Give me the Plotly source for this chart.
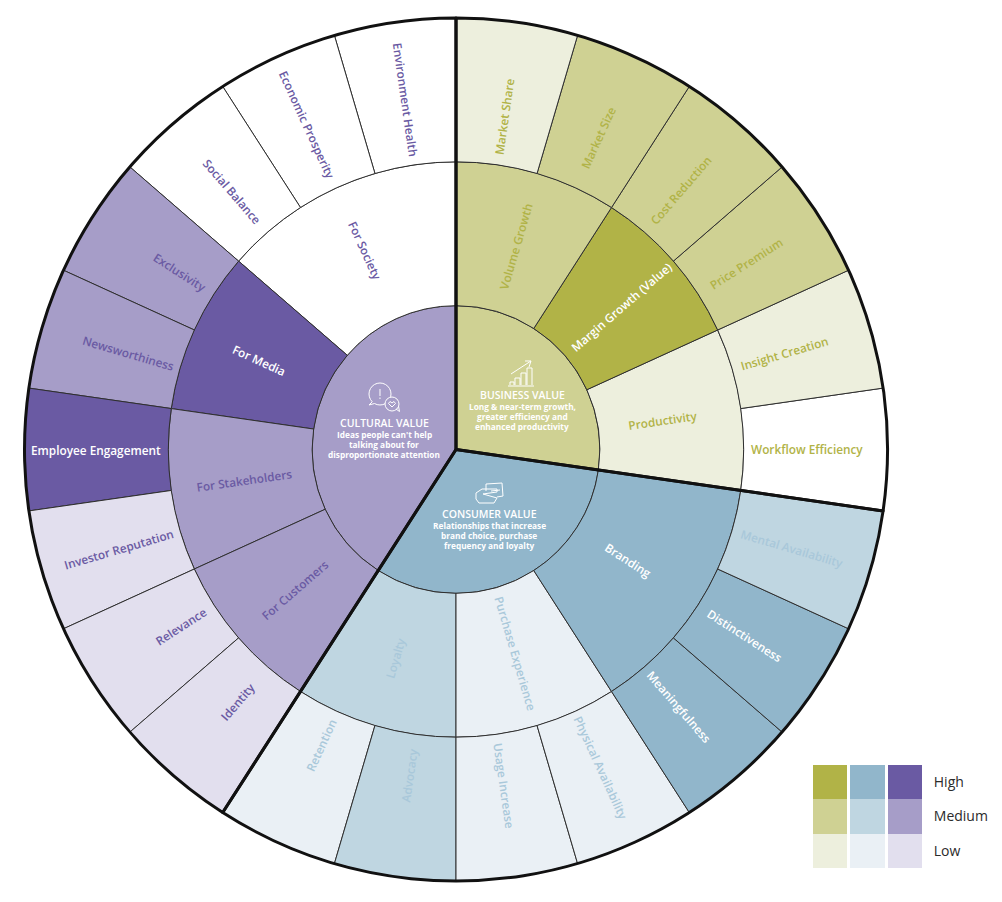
import math
import plotly.graph_objects as go

W, H = 1002, 902
CX, CY, R = 456, 449.5, 431.5

# palette
B_HI, B_MD, B_LO = "#B1B347", "#CFD193", "#EDEFDD"
C_HI, C_MD, C_LO = "#91B6CB", "#BFD6E1", "#EAF0F5"
P_HI, P_MD, P_LO = "#6A5AA3", "#A69DC8", "#E2DFEE"
NONE = "#FFFFFF"
B_TX, C_TX, P_TX = "#B1B347", "#A9C8DA", "#6A5AA3"

pillars = ["BUSINESS VALUE", "CONSUMER VALUE", "CULTURAL VALUE"]
pillar_fill = [B_MD, C_HI, P_MD]
pillar_leaves = [6, 7, 9]

mid_names = ["Volume Growth", "Margin Growth (Value)", "Productivity",
             "Branding", "Purchase Experience", "Loyalty",
             "For Customers", "For Stakeholders", "For Media", "For Society"]
mid_parents = [pillars[0]] * 3 + [pillars[1]] * 3 + [pillars[2]] * 4
mid_fill = [B_MD, B_HI, B_LO, C_HI, C_LO, C_MD, P_MD, P_MD, P_HI, NONE]
mid_text = [B_TX, "#FFFFFF", B_TX, "#FFFFFF", C_TX, C_TX, P_TX, P_TX, "#FFFFFF", P_TX]
mid_label_r = [212, 218, 209, 205, 212, 217, 214, 214, 216, 219]

leaf_names = ["Market Share", "Market Size", "Cost Reduction", "Price Premium",
              "Insight Creation", "Workflow Efficiency",
              "Mental Availability", "Distinctiveness", "Meaningfulness",
              "Physical Availability", "Usage Increase", "Advocacy", "Retention",
              "Identity", "Relevance", "Investor Reputation", "Employee Engagement",
              "Newsworthiness", "Exclusivity",
              "Social Balance", "Economic Prosperity", "Environment Health"]
leaf_parents = ["Volume Growth"] * 2 + ["Margin Growth (Value)"] * 2 + ["Productivity"] * 2 + \
               ["Branding"] * 3 + ["Purchase Experience"] * 2 + ["Loyalty"] * 2 + \
               ["For Customers"] * 2 + ["For Stakeholders"] * 2 + ["For Media"] * 2 + ["For Society"] * 3
leaf_values = [1] * 22
leaf_fill = [B_LO, B_MD, B_MD, B_MD, B_LO, NONE,
             C_MD, C_HI, C_HI, C_LO, C_LO, C_MD, C_LO,
             P_LO, P_LO, P_LO, P_HI, P_MD, P_MD, NONE, NONE, NONE]
leaf_text = [B_TX] * 6 + [C_TX, "#FFFFFF", "#FFFFFF", C_TX, C_TX, C_TX, C_TX] + \
            [P_TX, P_TX, P_TX, "#FFFFFF", P_TX, P_TX, P_TX, P_TX, P_TX]
leaf_label_r = [337, 343, 343, 345, 342, 351, 350, 343, 340, 350, 340,
                329, 325, 333, 327, 352, 360, 341, 328, 342, 357, 353]

legend_levels = ["Low", "Medium", "High"]
legend_colors = [B_LO, C_LO, P_LO, B_MD, C_MD, P_MD, B_HI, C_HI, P_HI]
legend_index = [[0, 1, 2], [3, 4, 5], [6, 7, 8]]

FONT = "Open Sans, Lato, sans-serif"

mid_values = [sum(v for v, p in zip(leaf_values, leaf_parents) if p == m) for m in mid_names]
# the sunburst runs counterclockwise, the chart reads clockwise from 12 o'clock
ids = pillars[::-1] + mid_names[::-1] + leaf_names[::-1]
parents = [""] * 3 + mid_parents[::-1] + leaf_parents[::-1]
values = pillar_leaves[::-1] + mid_values[::-1] + leaf_values[::-1]
fills = pillar_fill[::-1] + mid_fill[::-1] + leaf_fill[::-1]

dom_x = [(CX - R) / W, (CX + R) / W]
dom_y = [(H - CY - R) / H, (H - CY + R) / H]

fig = go.Figure()
fig.add_trace(go.Sunburst(
    ids=ids, labels=ids, parents=parents, values=values, branchvalues="total",
    sort=False, rotation=90, textinfo="none",
    marker=dict(colors=fills, line=dict(color="#2f2f2f", width=1)),
    leaf=dict(opacity=1),
    domain=dict(x=dom_x, y=dom_y), hoverinfo="skip",
))
# heavy outline of the three value groups
fig.add_trace(go.Sunburst(
    ids=pillars[::-1], labels=pillars[::-1], parents=[""] * 3, values=pillar_leaves[::-1],
    branchvalues="total", sort=False, rotation=90, textinfo="none",
    marker=dict(colors=["rgba(0,0,0,0)"] * 3, line=dict(color="#111111", width=3)),
    leaf=dict(opacity=1),
    domain=dict(x=dom_x, y=dom_y), hoverinfo="skip",
))
# legend
fig.add_trace(go.Heatmap(
    z=legend_index, x=[0, 1, 2], y=legend_levels, xgap=3, ygap=0, showscale=False,
    zmin=0, zmax=8, hoverinfo="skip",
    colorscale=[[i / 8, c] for i, c in enumerate(legend_colors)],
    xaxis="x", yaxis="y",
))

# sector labels: radial text, at the middle angle of each sector
def radial_label(name, a, r, color):
    rad = math.radians(a)
    x = CX + r * math.sin(rad)
    y = CY - r * math.cos(rad)
    angle = a - 90 if a <= 180 else a - 270
    return dict(x=x / W, y=1 - y / H, xref="paper", yref="paper", text=name, showarrow=False,
                textangle=angle, xanchor="center", yanchor="middle",
                font=dict(family=FONT, size=11.8, color=color, weight=600))

annotations = []
total = sum(leaf_values)
pos = 0
mid_span = {m: [None, None] for m in mid_names}
for name, parent, val, col, r in zip(leaf_names, leaf_parents, leaf_values, leaf_text, leaf_label_r):
    a0, a1 = pos / total * 360, (pos + val) / total * 360
    pos += val
    if mid_span[parent][0] is None:
        mid_span[parent][0] = a0
    mid_span[parent][1] = a1
    annotations.append(radial_label(name, (a0 + a1) / 2, r, col))
for name, col, r in zip(mid_names, mid_text, mid_label_r):
    annotations.append(radial_label(name, sum(mid_span[name]) / 2, r, col))

# centre captions
def caption(x, y, title, lines):
    ann = [dict(x=x / W, y=1 - y / H, xref="paper", yref="paper", text=title, showarrow=False,
                font=dict(family=FONT, size=10.5, color="#FFFFFF", weight=600))]
    for i, line in enumerate(lines):
        ann.append(dict(x=x / W, y=1 - (y + 11.5 + i * 10) / H, xref="paper", yref="paper", text=line,
                        showarrow=False, font=dict(family=FONT, size=8.3, color="#FFFFFF", weight=700)))
    return ann

annotations += caption(522, 395, "BUSINESS VALUE", ["Long &amp; near-term growth,", "greater efficiency and", "enhanced productivity"])
annotations += caption(489, 514, "CONSUMER VALUE", ["Relationships that increase", "brand choice, purchase", "frequency and loyalty"])
annotations += caption(384, 423, "CULTURAL VALUE", ["Ideas people can't help", "talking about for", "disproportionate attention"])

# small pictograms, pixel coordinates converted to paper space
def poly(pts, close=False):
    parts = []
    for i, p in enumerate(pts):
        parts.append(("M" if i == 0 else "L") + f"{p[0] / W:.5f},{1 - p[1] / H:.5f}")
    if close:
        parts.append("Z")
    return " ".join(parts)

def line_shape(d, w=1):
    return dict(type="path", xref="paper", yref="paper", path=d, line=dict(color="#FFFFFF", width=w), layer="above")

def ring(cx, cy, r, tail, n=24, start=0):
    pts = []
    for i in range(n):
        if i == start:
            pts.append(tail)
        a = 2 * math.pi * i / n
        pts.append((cx + r * math.cos(a), cy + r * math.sin(a)))
    return poly(pts, True)

shapes = []
# business: bars and arrow
shapes.append(line_shape(poly([(508, 386), (534, 386)])))
for x0, x1, top in [(510, 514, 382), (515, 520, 378), (521, 526, 373), (527, 532, 368)]:
    shapes.append(line_shape(poly([(x0, 385), (x0, top), (x1, top), (x1, 385)])))
shapes.append(line_shape(poly([(511, 374), (531, 361)])))
shapes.append(line_shape(poly([(525, 361), (531, 361), (529, 367)])))
# consumer: two cards
shapes.append(line_shape(poly([(486, 491), (486, 484), (502, 483), (503, 496), (497, 497)])))
shapes.append(line_shape(poly([(482, 489), (497, 489), (497, 492), (483, 494), (497, 498), (494, 503), (479, 503), (476, 499), (476, 493), (482, 489)])))
shapes.append(line_shape(poly([(491, 491), (500, 490)])))
# cultural: speech bubbles
shapes.append(line_shape(ring(380, 394, 11, (369, 405), start=9)))
shapes.append(line_shape(poly([(380, 389), (380, 396)])))
shapes.append(line_shape(poly([(380, 397.5), (380, 399)])))
shapes.append(dict(type="circle", xref="paper", yref="paper", x0=385 / W, x1=399 / W, y0=1 - 411 / H, y1=1 - 397 / H,
                   fillcolor=P_MD, line=dict(color="#FFFFFF", width=1), layer="above"))
shapes.append(line_shape(poly([(392, 407), (388.5, 403.5), (390, 401.5), (392, 403), (394, 401.5), (395.5, 403.5), (392, 407)])))
shapes.append(line_shape(poly([(396, 409), (399.5, 411.5), (398.5, 406)])))

fig.update_layout(
    width=W, height=H, margin=dict(l=0, r=0, t=0, b=0),
    paper_bgcolor="#FFFFFF", plot_bgcolor="#FFFFFF", showlegend=False,
    annotations=annotations, shapes=shapes,
    xaxis=dict(domain=[812 / W, 924 / W], showticklabels=False, ticks="", showgrid=False,
               zeroline=False, showline=False, range=[-0.5, 2.5], fixedrange=True),
    yaxis=dict(domain=[1 - 868 / H, 1 - 765 / H], side="right", ticks="outside", ticklen=6,
               tickcolor="rgba(0,0,0,0)", showgrid=False, zeroline=False, showline=False,
               tickfont=dict(family=FONT, size=14, color="#2b2b2b"), fixedrange=True, anchor="x"),
)
fig.write_html("out.html", config={"displayModeBar": False},
               post_script="document.body.style.margin='0';document.documentElement.style.overflow='hidden';")
